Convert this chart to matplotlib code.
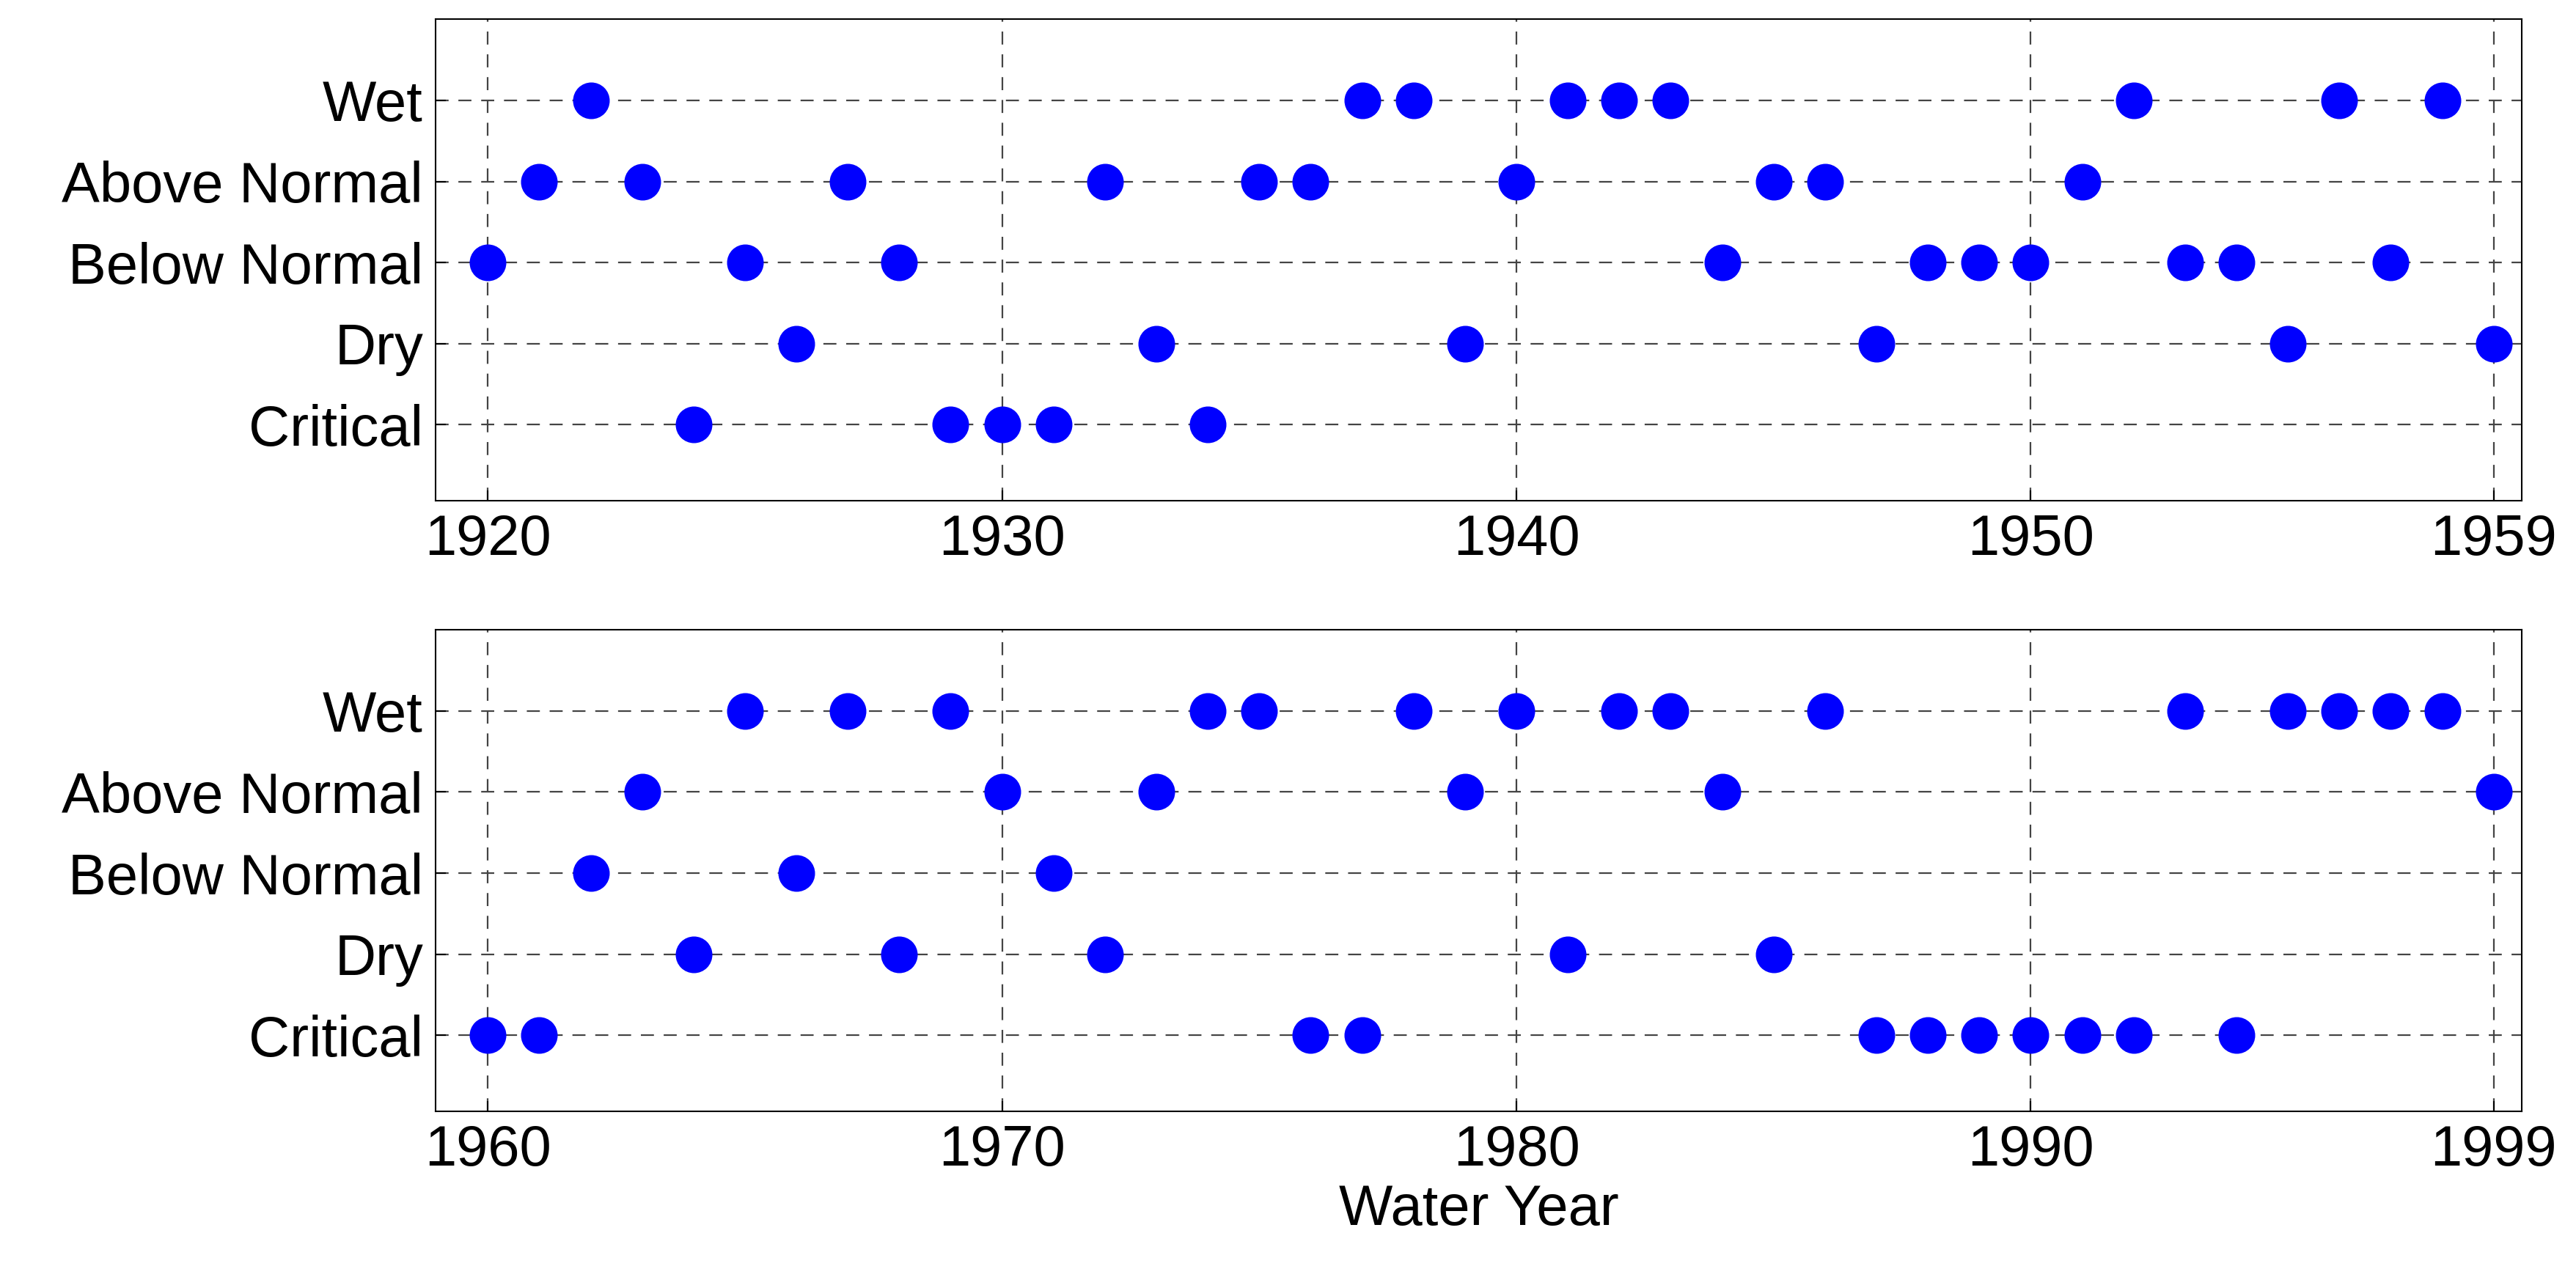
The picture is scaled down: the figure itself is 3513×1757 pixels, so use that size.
import matplotlib
matplotlib.use("Agg")
import matplotlib.pyplot as plt

categories = ["Critical", "Dry", "Below Normal", "Above Normal", "Wet"]
top_years = list(range(1920, 1960))
top_wet = [1922, 1937, 1938, 1941, 1942, 1943, 1952, 1956, 1958]
top_an = [1921, 1923, 1927, 1932, 1935, 1936, 1940, 1945, 1946, 1951]
top_bn = [1920, 1925, 1928, 1944, 1948, 1949, 1950, 1953, 1954, 1957]
top_dry = [1926, 1933, 1939, 1947, 1955, 1959]
top_crit = [1924, 1929, 1930, 1931, 1934]
bot_wet = [1965, 1967, 1969, 1974, 1975, 1978, 1980, 1982, 1983, 1986, 1993, 1995, 1996, 1997, 1998]
bot_an = [1963, 1970, 1973, 1979, 1984, 1999]
bot_bn = [1962, 1966, 1971]
bot_dry = [1964, 1968, 1972, 1981, 1985]
bot_crit = [1960, 1961, 1976, 1977, 1987, 1988, 1989, 1990, 1991, 1992, 1994]
top_ticks = [1920, 1930, 1940, 1950, 1959]
bot_ticks = [1960, 1970, 1980, 1990, 1999]

plt.rcParams['font.family'] = ['Liberation Sans', 'DejaVu Sans']
fig = plt.figure(figsize=(35.13, 17.57), dpi=100)
ax1 = fig.add_axes([0.169, 0.611, 0.81, 0.374])
ax2 = fig.add_axes([0.169, 0.137, 0.81, 0.374])

def draw(ax, groups, start, ticks):
    for i, yrs in enumerate(groups):
        ax.plot(yrs, [i + 1] * len(yrs), 'o', color='#0000ff', markersize=35, zorder=3, clip_on=False)
    ax.set_xlim(start - 1.02, start + 39.55)
    ax.set_ylim(0.06, 6.0)
    ax.set_yticks(range(1, 6))
    ax.set_yticklabels(categories)
    ax.set_xticks(ticks)
    for t in ticks:
        ax.axvline(t, color='#444444', ls=(0, (8, 6)), lw=1.6, zorder=1)
    for y in range(1, 6):
        ax.axhline(y, color='#444444', ls=(0, (8, 6)), lw=1.6, zorder=1)
    ax.tick_params(labelsize=56, direction='in', length=10, width=1.5, pad=12)
    for s in ax.spines.values():
        s.set_linewidth(1.5)

draw(ax1, [top_crit, top_dry, top_bn, top_an, top_wet], 1920, top_ticks)
draw(ax2, [bot_crit, bot_dry, bot_bn, bot_an, bot_wet], 1960, bot_ticks)
ax2.set_xlabel("Water Year", fontsize=56, labelpad=6)
fig.savefig("out.png", dpi=100)
